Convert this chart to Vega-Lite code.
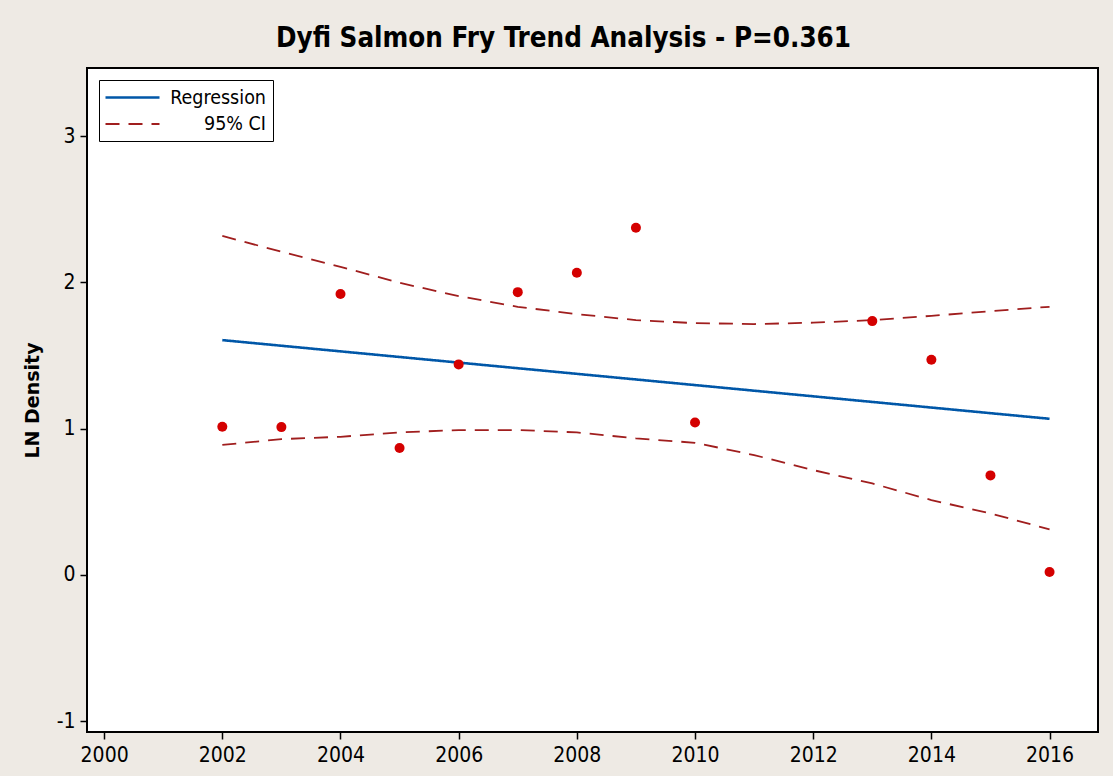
{
  "$schema": "https://vega.github.io/schema/vega-lite/v6.json",
  "width": 1011,
  "height": 664,
  "autosize": {"type": "none"},
  "padding": {"left": 87, "top": 68, "right": 15, "bottom": 44},
  "background": "#EEEAE4",
  "title": {
    "text": "Dyfi Salmon Fry Trend Analysis - P=0.361",
    "font": "DejaVu Sans Condensed",
    "fontSize": 27.5,
    "fontWeight": "bold",
    "color": "black",
    "anchor": "middle",
    "dx": -29,
    "offset": 16
  },
  "config": {
    "view": {"stroke": "black", "strokeWidth": 2, "fill": "white"},
    "axis": {
      "labelFont": "DejaVu Sans Condensed",
      "labelFontSize": 21,
      "labelColor": "black",
      "tickColor": "black",
      "tickSize": 7,
      "tickWidth": 1.5,
      "domain": false,
      "grid": false,
      "titleFont": "DejaVu Sans",
      "titleFontSize": 19,
      "titleFontWeight": "bold",
      "titleColor": "black"
    }
  },
  "datasets": {
    "points": [
      {"year": 2002, "density": 1.012},
      {"year": 2003, "density": 1.01},
      {"year": 2004, "density": 1.92},
      {"year": 2005, "density": 0.867},
      {"year": 2006, "density": 1.439},
      {"year": 2007, "density": 1.933},
      {"year": 2008, "density": 2.066},
      {"year": 2009, "density": 2.373},
      {"year": 2010, "density": 1.042},
      {"year": 2013, "density": 1.735},
      {"year": 2014, "density": 1.471},
      {"year": 2015, "density": 0.68},
      {"year": 2016, "density": 0.019}
    ],
    "lines": [
      {"year": 2002, "value": 1.605, "series": "Regression", "part": "fit"},
      {"year": 2016, "value": 1.067, "series": "Regression", "part": "fit"},
      {"year": 2002, "value": 2.318, "series": "95% CI", "part": "upper"},
      {"year": 2003, "value": 2.209, "series": "95% CI", "part": "upper"},
      {"year": 2004, "value": 2.106, "series": "95% CI", "part": "upper"},
      {"year": 2005, "value": 1.997, "series": "95% CI", "part": "upper"},
      {"year": 2006, "value": 1.906, "series": "95% CI", "part": "upper"},
      {"year": 2007, "value": 1.833, "series": "95% CI", "part": "upper"},
      {"year": 2008, "value": 1.783, "series": "95% CI", "part": "upper"},
      {"year": 2009, "value": 1.742, "series": "95% CI", "part": "upper"},
      {"year": 2010, "value": 1.721, "series": "95% CI", "part": "upper"},
      {"year": 2011, "value": 1.715, "series": "95% CI", "part": "upper"},
      {"year": 2012, "value": 1.724, "series": "95% CI", "part": "upper"},
      {"year": 2013, "value": 1.742, "series": "95% CI", "part": "upper"},
      {"year": 2014, "value": 1.771, "series": "95% CI", "part": "upper"},
      {"year": 2015, "value": 1.803, "series": "95% CI", "part": "upper"},
      {"year": 2016, "value": 1.833, "series": "95% CI", "part": "upper"},
      {"year": 2002, "value": 0.888, "series": "95% CI", "part": "lower"},
      {"year": 2003, "value": 0.928, "series": "95% CI", "part": "lower"},
      {"year": 2004, "value": 0.944, "series": "95% CI", "part": "lower"},
      {"year": 2005, "value": 0.974, "series": "95% CI", "part": "lower"},
      {"year": 2006, "value": 0.99, "series": "95% CI", "part": "lower"},
      {"year": 2007, "value": 0.99, "series": "95% CI", "part": "lower"},
      {"year": 2008, "value": 0.974, "series": "95% CI", "part": "lower"},
      {"year": 2009, "value": 0.933, "series": "95% CI", "part": "lower"},
      {"year": 2010, "value": 0.903, "series": "95% CI", "part": "lower"},
      {"year": 2011, "value": 0.819, "series": "95% CI", "part": "lower"},
      {"year": 2012, "value": 0.716, "series": "95% CI", "part": "lower"},
      {"year": 2013, "value": 0.625, "series": "95% CI", "part": "lower"},
      {"year": 2014, "value": 0.511, "series": "95% CI", "part": "lower"},
      {"year": 2015, "value": 0.42, "series": "95% CI", "part": "lower"},
      {"year": 2016, "value": 0.311, "series": "95% CI", "part": "lower"}
    ]
  },
  "layer": [
    {
      "data": {"name": "lines"},
      "mark": {"type": "line", "clip": true},
      "encoding": {
        "x": {
          "field": "year", "type": "quantitative",
          "scale": {"domain": [1999.71, 2016.82], "nice": false, "zero": false},
          "axis": {"values": [2000, 2002, 2004, 2006, 2008, 2010, 2012, 2014, 2016], "format": "d", "title": null, "labelPadding": 5}
        },
        "y": {
          "field": "value", "type": "quantitative",
          "scale": {"domain": [-1.075, 3.466], "nice": false, "zero": false},
          "axis": {"values": [-1, 0, 1, 2, 3], "labelExpr": "datum.value + ''", "title": "LN Density", "labelPadding": 5, "titlePadding": 14}
        },
        "detail": {"field": "part"},
        "color": {
          "field": "series", "type": "nominal",
          "scale": {"domain": ["Regression", "95% CI"], "range": ["#0057A8", "#A01E1E"]},
          "legend": {
            "title": null,
            "orient": "none",
            "legendX": 12,
            "legendY": 12,
            "fillColor": "white",
            "strokeColor": "black",
            "padding": 7,
            "symbolType": "M-3,0H3",
            "symbolSize": 324,
            "symbolOffset": 16,
            "symbolStrokeWidth": 2,
            "labelFont": "DejaVu Sans Condensed",
            "labelFontSize": 19.5,
            "labelColor": "black",
            "labelAlign": "right",
            "labelOffset": 123,
            "rowPadding": 7
          }
        },
        "strokeDash": {
          "field": "series", "type": "nominal",
          "scale": {"domain": ["Regression", "95% CI"], "range": [[1, 0], [14, 9]]}
        },
        "strokeWidth": {
          "field": "series", "type": "nominal",
          "scale": {"domain": ["Regression", "95% CI"], "range": [2.6, 1.8]},
          "legend": null
        }
      }
    },
    {
      "data": {"name": "points"},
      "mark": {"type": "point", "filled": true, "shape": "circle", "size": 100, "color": "#D40000", "opacity": 1},
      "encoding": {
        "x": {"field": "year", "type": "quantitative"},
        "y": {"field": "density", "type": "quantitative"}
      }
    }
  ]
}
